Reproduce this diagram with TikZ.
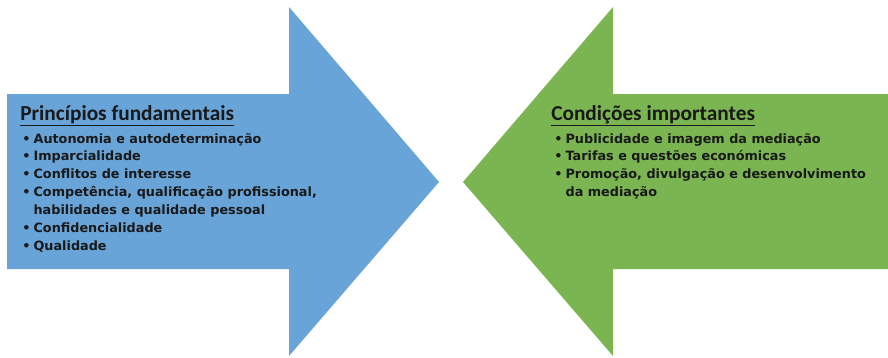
\documentclass[tikz,border=0pt]{standalone}
\usepackage{fontspec}
\setmainfont{DejaVu Sans}
\newfontfamily\headfont{Carlito}
\definecolor{arrowblue}{RGB}{104,164,216}
\definecolor{arrowgreen}{RGB}{122,181,81}
\newcommand\pitem[1]{\hbox{\makebox[8.5pt][l]{\textbullet}#1}}
\newcommand\pcont[1]{\hbox{\hspace*{8.5pt}#1}}

\begin{document}
\begin{tikzpicture}[x=0.75pt, y=-0.75pt,
    head/.style={anchor=base west, inner sep=0, text=black!90,
        font=\headfont\bfseries\fontsize{16}{18}\selectfont},
    items/.style={anchor=base west, inner sep=0, text=black!90,
        font=\bfseries\fontsize{9.6}{13.4}\selectfont}]
    \useasboundingbox (0, 0) rectangle (888, 357);

    % the two arrows
    \fill[arrowblue] (7, 94) -- (289, 94) -- (289, 7) -- (439, 182)
        -- (289, 356) -- (289, 269) -- (7, 269) -- cycle;
    \fill[arrowgreen] (888, 94) -- (613, 94) -- (613, 7) -- (463, 182)
        -- (613, 356) -- (613, 269) -- (888, 269) -- cycle;

    \node at (20, 120) [head] (princ) {\underline{Princípios fundamentais}};
    \node at (22, 143) [items] (princlist) {\vtop{\baselineskip=13.4pt
        \pitem{Autonomia e autodeterminação}
        \pitem{Imparcialidade}
        \pitem{Conflitos de interesse}
        \pitem{Competência, qualificação profissional,}
        \pcont{habilidades e qualidade pessoal}
        \pitem{Confidencialidade}
        \pitem{Qualidade}}};

    \node at (551, 120) [head] (cond) {\underline{Condições importantes}};
    \node at (554, 143) [items] (condlist) {\vtop{\baselineskip=13.4pt
        \pitem{Publicidade e imagem da mediação}
        \pitem{Tarifas e questões económicas}
        \pitem{Promoção, divulgação e desenvolvimento}
        \pcont{da mediação}}};
\end{tikzpicture}
\end{document}
